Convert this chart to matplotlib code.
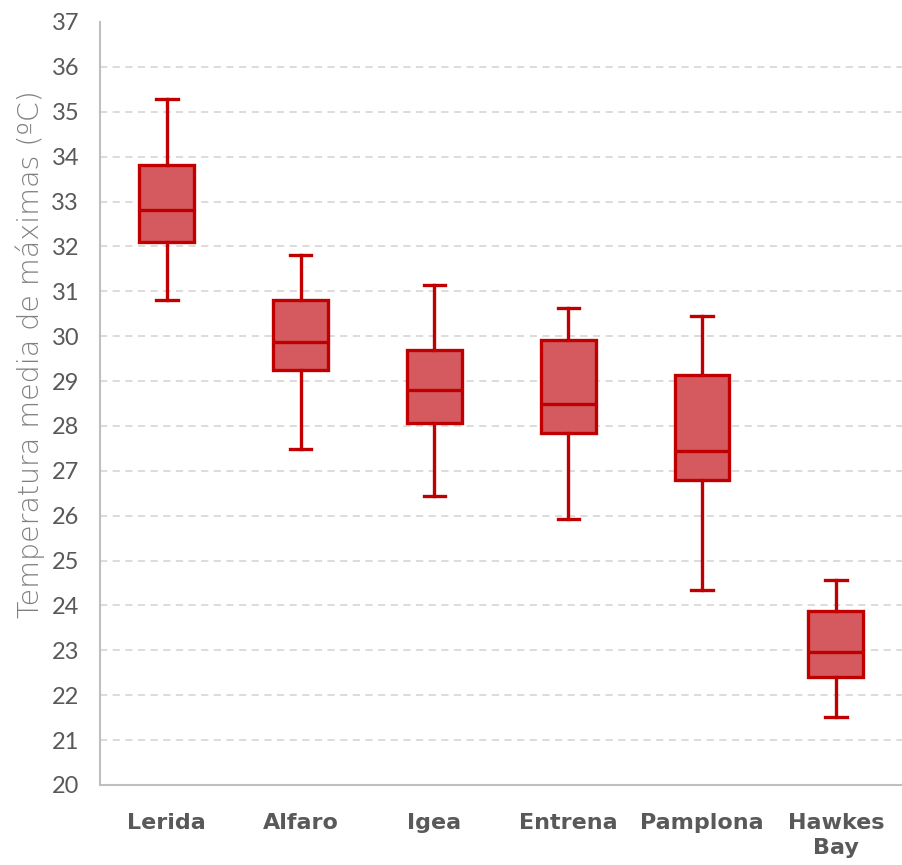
import matplotlib
matplotlib.use("Agg")
import matplotlib.pyplot as plt

sites = ["Lerida", "Alfaro", "Igea", "Entrena", "Pamplona", "Hawkes\nBay"]
whisker_low = [30.81, 27.49, 26.44, 25.93, 24.34, 21.51]
q1 = [32.10, 29.25, 28.07, 27.84, 26.80, 22.41]
median = [32.81, 29.87, 28.80, 28.49, 27.44, 22.96]
q3 = [33.81, 30.81, 29.69, 29.91, 29.13, 23.88]
whisker_high = [35.28, 31.81, 31.14, 30.63, 30.45, 24.57]

plt.rcParams['font.family'] = ['Lato', 'DejaVu Sans']

stats = []
for i in range(len(sites)):
    stats.append({
        "label": sites[i],
        "whislo": whisker_low[i],
        "q1": q1[i],
        "med": median[i],
        "q3": q3[i],
        "whishi": whisker_high[i],
    })

fig = plt.figure(figsize=(9.03, 8.65), dpi=100)
ax = fig.add_axes([0.1107, 0.0925, 0.889, 0.8821])

red = "#C00000"
ax.bxp(stats, positions=range(len(sites)), widths=0.41, patch_artist=True,
       showfliers=False, capwidths=0.16,
       boxprops=dict(facecolor="#D55A5F", edgecolor=red, linewidth=2.4),
       medianprops=dict(color=red, linewidth=2.4),
       whiskerprops=dict(color=red, linewidth=2.4),
       capprops=dict(color=red, linewidth=2.4))

ax.set_xlim(-0.5, len(sites) - 0.5)
ax.set_ylim(20, 37)
ax.set_yticks(range(20, 38))
ax.yaxis.grid(True, linestyle=(0, (4, 3)), color="#D9D9D9", linewidth=1.3)
ax.set_axisbelow(True)
ax.get_ygridlines()[-1].set_visible(False)
ax.get_ygridlines()[0].set_visible(False)

for s in ["top", "right"]:
    ax.spines[s].set_visible(False)
for s in ["left", "bottom"]:
    ax.spines[s].set_color("#BFBFBF")
    ax.spines[s].set_linewidth(1.5)

ax.tick_params(axis="both", length=0)
ax.tick_params(axis="y", labelsize=17, labelcolor="#595959", pad=15)
ax.tick_params(axis="x", pad=20)
ax.set_xticks(range(len(sites)))
ax.set_xticklabels(sites, fontsize=16, fontweight="bold", color="#595959",
                   family="DejaVu Sans", linespacing=1.3, va="top")

ax.set_ylabel("Temperatura media de máximas (ºC)", fontsize=20.5, color="#808080",
              family="DejaVu Sans", fontweight="light")
ax.yaxis.set_label_coords(-0.068, 0.565)

plt.savefig("out.png", dpi=100)
